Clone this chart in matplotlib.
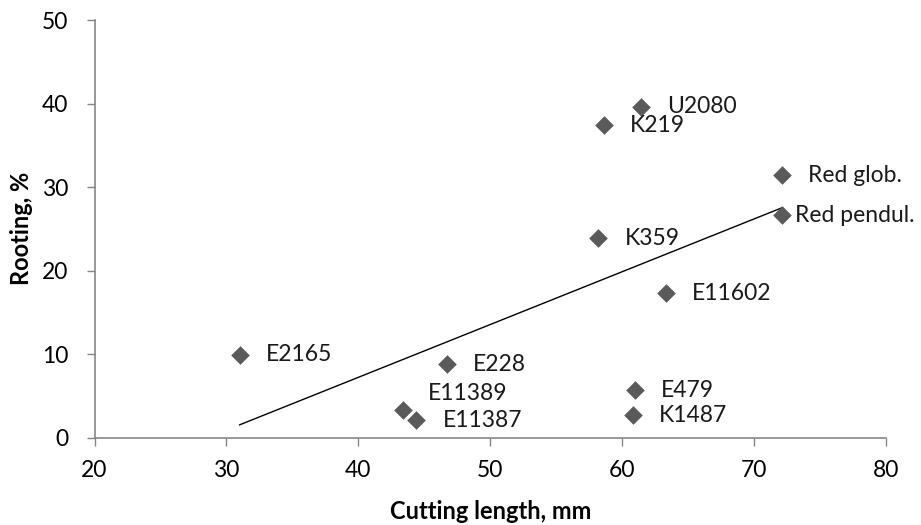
import matplotlib
matplotlib.use("Agg")
import matplotlib.pyplot as plt
import numpy as np

plt.rcParams['font.family'] = ['Lato', 'DejaVu Sans']

# Clone data: cutting length (mm) vs rooting (%)
clones = ["E2165", "E228", "E11389", "E11387", "E479", "K1487",
          "E11602", "U2080", "K219", "Red glob.", "Red pendul.", "K359"]
cutting_length = [31.0, 46.7, 43.4, 44.4, 61.0, 60.8,
                  63.3, 61.4, 58.6, 72.1, 72.1, 58.2]
rooting = [9.9, 8.8, 3.3, 2.1, 5.7, 2.7,
           17.3, 39.6, 37.4, 31.4, 26.6, 23.9]

x_ticks = [20, 30, 40, 50, 60, 70, 80]
y_ticks = [0, 10, 20, 30, 40, 50]

# label offsets in pixels (dx, dy)
label_offsets = {"E11389": (25, 17), "Red pendul.": (13, 0)}
default_offset = (26, 0)

fig = plt.figure(figsize=(9.21, 5.25), dpi=100)
ax = fig.add_axes([94.5 / 921, (525 - 437.7) / 525,
                   (886 - 94.5) / 921, (437.7 - 20) / 525])

marker_color = "#5a5a5a"
axis_color = "#868686"

ax.scatter(cutting_length, rooting, marker="D", s=90, color=marker_color,
           linewidths=0, zorder=3)

# linear trend line over the data range
coef = np.polyfit(cutting_length, rooting, 1)
xs = np.array([min(cutting_length), max(cutting_length)])
ax.plot(xs, np.polyval(coef, xs), color="black", lw=1.0, zorder=2)

for name, x, y in zip(clones, cutting_length, rooting):
    dx, dy = label_offsets.get(name, default_offset)
    ax.annotate(name, (x, y), xytext=(dx, dy), textcoords="offset pixels",
                ha="left", va="center", fontsize=16.5, color="#1a1a1a")

ax.set_xlim(20, 80)
ax.set_ylim(0, 50)
ax.set_xticks(x_ticks)
ax.set_yticks(y_ticks)
ax.tick_params(axis="both", colors=axis_color, labelcolor="black",
               labelsize=16.5, direction="out", length=6, width=1)
ax.tick_params(axis="x", pad=10)
ax.tick_params(axis="y", pad=13)

for side in ["top", "right"]:
    ax.spines[side].set_visible(False)
for side in ["left", "bottom"]:
    ax.spines[side].set_color(axis_color)
    ax.spines[side].set_linewidth(1.2)

ax.set_xlabel("Cutting length, mm", fontsize=17, fontweight="bold", labelpad=14)
ax.set_ylabel("Rooting, %", fontsize=17, fontweight="bold", labelpad=6)

fig.savefig("out.png", dpi=100)
